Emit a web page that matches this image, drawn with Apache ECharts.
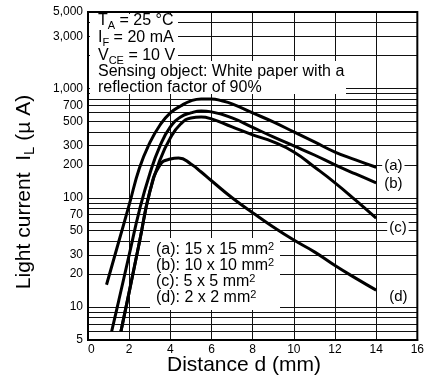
<!DOCTYPE html>
<html>
<head>
<meta charset="utf-8">
<script src="https://cdn.jsdelivr.net/npm/echarts@6/dist/echarts.min.js"></script>
<style>
html, body { margin: 0; padding: 0; background: #fff; }
#chart { width: 427px; height: 381px; }
</style>
</head>
<body>
<div id="chart"></div>
<script>
// Light current (uA) vs distance (mm)
var distA = [0.9, 1.5, 2.0, 2.5, 3.0, 3.5, 4.0, 4.5, 5.0, 5.5, 6.0, 6.5, 7.0, 8.0, 9.0, 10.0, 11.0, 12.0, 13.0, 14.0];
var currA = [16, 40, 86, 187, 317, 463, 597, 691, 770, 802, 802, 770, 721, 597, 494, 400, 324, 262, 222, 190];

var distB = [1.15, 1.5, 2.0, 2.5, 3.0, 3.5, 4.0, 4.5, 5.0, 5.5, 6.0, 7.0, 8.0, 9.0, 10.0, 11.0, 12.0, 13.0, 14.0];
var currB = [6, 11.6, 30, 77, 165, 298, 444, 548, 597, 622, 610, 537, 440, 360, 298, 246, 200, 165, 137];

var distC = [1.6, 2.0, 2.5, 3.0, 3.5, 4.0, 4.5, 5.0, 5.5, 6.0, 7.0, 8.0, 9.0, 10.0, 11.0, 12.0, 13.0, 14.0];
var currC = [6, 13.7, 39.4, 113, 222, 352, 473, 537, 548, 526, 444, 376, 324, 262, 191, 137, 95, 65];

var distD = [1.6, 2.0, 2.5, 3.0, 3.5, 4.0, 4.4, 5.0, 5.5, 6.0, 7.0, 8.0, 9.0, 10.0, 11.0, 12.0, 13.0, 14.0];
var currD = [6, 13.7, 39.4, 113, 200, 226, 231, 204, 172, 143, 100, 73, 54, 41, 32, 24, 18.4, 14.3];

var seriesNames = ['(a)', '(b)', '(c)', '(d)'];
var legendLines = ['(a): 15 x 15 mm', '(b): 10 x 10 mm', '(c): 5 x 5 mm', '(d): 2 x 2 mm'];

var yLabelValues = [5, 10, 20, 30, 50, 70, 100, 200, 300, 500, 700, 1000, 3000, 5000];
var yGridValues = [5, 6, 7, 8, 9, 10, 20, 30, 40, 50, 60, 70, 80, 90, 100, 200, 300, 400, 500,
                   600, 700, 800, 900, 1000, 2000, 3000, 4000, 5000];

var FONT = '"Liberation Sans", Arial, sans-serif';

function pairs(xs, ys) {
	var out = [];
	xs.forEach(function(x, i) { out.push([x, ys[i]]); });
	return out;
}

var myChart = echarts.init(document.getElementById('chart'), null, { renderer: 'canvas' });

var curveData = [pairs(distA, currA), pairs(distB, currB), pairs(distC, currC), pairs(distD, currD)];
// end label offsets so the (a)..(d) tags sit where the original puts them
var endOffsets = [[0, -1], [0, 1], [5, 10], [5, 7]];

var series = [];
curveData.forEach(function(data, i) {
	series.push({
		name: seriesNames[i],
		type: 'line',
		data: data,
		smooth: 0.5,
		showSymbol: false,
		symbol: 'none',
		lineStyle: { color: '#000', width: 3 },
		z: 3,
		endLabel: {
			show: true,
			formatter: seriesNames[i],
			color: '#000',
			fontFamily: FONT,
			fontSize: 15,
			backgroundColor: '#fff',
			padding: [0, 2],
			distance: 6,
			offset: endOffsets[i]
		}
	});
});

function sub(t) { return '{s|' + t + '}'; }
var richMain = {
	t: { fontSize: 16, lineHeight: 20, fontFamily: FONT, color: '#000' },
	s: { fontSize: 11, lineHeight: 11, verticalAlign: 'bottom', fontFamily: FONT, color: '#000' }
};
var richLegend = {
	t: { fontSize: 16, lineHeight: 18, fontFamily: FONT, color: '#000' },
	p: { fontSize: 11, lineHeight: 11, verticalAlign: 'top', fontFamily: FONT, color: '#000' }
};

var graphics = [
	{ type: 'rect', shape: { x: 90, y: 14, width: 88, height: 50 }, style: { fill: '#fff' }, z: 1 },
	{ type: 'rect', shape: { x: 90, y: 61, width: 256, height: 33 }, style: { fill: '#fff' }, z: 1 },
	{ type: 'rect', shape: { x: 150, y: 238, width: 130, height: 72 }, style: { fill: '#fff' }, z: 1 },
	{ type: 'text', x: 98, y: 21, z: 4, style: { text: '{t|T}' + sub('A') + '{t| = 25 °C}', rich: richMain, verticalAlign: 'middle' } },
	{ type: 'text', x: 98, y: 38, z: 4, style: { text: '{t|I}' + sub('F') + '{t| = 20 mA}', rich: richMain, verticalAlign: 'middle' } },
	{ type: 'text', x: 98, y: 56, z: 4, style: { text: '{t|V}' + sub('CE') + '{t| = 10 V}', rich: richMain, verticalAlign: 'middle' } },
	{ type: 'text', x: 98, y: 72, z: 4, style: { text: 'Sensing object: White paper with a', font: '16px ' + FONT, fill: '#000', verticalAlign: 'middle' } },
	{ type: 'text', x: 98, y: 88, z: 4, style: { text: 'reflection factor of 90%', font: '16px ' + FONT, fill: '#000', verticalAlign: 'middle' } },
	// axis titles
	{ type: 'text', x: 24, y: 192, rotation: Math.PI / 2, z: 4, style: {
		text: '{t|Light current  I}{l|L}{t| (µ A)}',
		rich: {
			t: { fontSize: 21, lineHeight: 26, fontFamily: FONT, color: '#000' },
			l: { fontSize: 15, lineHeight: 15, verticalAlign: 'bottom', fontFamily: FONT, color: '#000' }
		},
		align: 'center', verticalAlign: 'middle'
	} },
	{ type: 'text', x: 244, y: 365, z: 4, style: { text: 'Distance d (mm)', font: '21px ' + FONT, fill: '#000', align: 'center', verticalAlign: 'middle' } }
];

legendLines.forEach(function(line, i) {
	graphics.push({
		type: 'text', x: 156, y: 250 + i * 16, z: 4,
		style: { text: '{t|' + line + '}{p|2}', rich: richLegend, verticalAlign: 'middle' }
	});
});

var option = {
	animation: false,
	backgroundColor: '#fff',
	grid: {
		left: 88, right: 9, top: 12, bottom: 41,
		show: true, borderColor: '#000', borderWidth: 2, z: 2
	},
	xAxis: {
		type: 'value',
		min: 0, max: 16, interval: 2,
		axisLine: { show: true, lineStyle: { color: '#000', width: 2 } },
		axisTick: { show: false },
		axisLabel: { color: '#000', fontFamily: FONT, fontSize: 12, margin: 4, alignMinLabel: 'left' },
		splitLine: { show: true, lineStyle: { color: '#111', width: 1 } }
	},
	yAxis: {
		type: 'log',
		logBase: 10,
		min: 5, max: 5000,
		axisLine: { show: true, lineStyle: { color: '#000', width: 2 } },
		axisTick: { show: false, customValues: yGridValues },
		axisLabel: {
			customValues: yLabelValues,
			color: '#000', fontFamily: FONT, fontSize: 12, margin: 5,
			formatter: function(v) {
				v = Math.round(v);
				return v >= 1000 ? Math.floor(v / 1000) + ',' + ('00' + (v % 1000)).slice(-3) : String(v);
			}
		},
		splitLine: { show: true, lineStyle: { color: '#111', width: 1 } }
	},
	graphic: graphics,
	series: series
};

myChart.setOption(option);
</script>
</body>
</html>
